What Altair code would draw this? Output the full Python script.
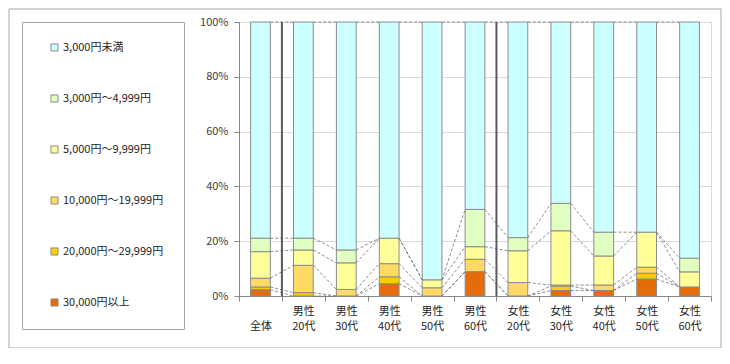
import json
import altair as alt
import pandas as pd

categories = ["全体", "男性20代", "男性30代", "男性40代", "男性50代", "男性60代",
              "女性20代", "女性30代", "女性40代", "女性50代", "女性60代"]
category_lines = [["", "全体"], ["男性", "20代"], ["男性", "30代"], ["男性", "40代"],
                  ["男性", "50代"], ["男性", "60代"], ["女性", "20代"], ["女性", "30代"],
                  ["女性", "40代"], ["女性", "50代"], ["女性", "60代"]]

# legend order (top -> bottom); stacking is the reverse (30,000円以上 at the bottom)
series_names = ["3,000円未満", "3,000円～4,999円", "5,000円～9,999円",
                "10,000円～19,999円", "20,000円～29,999円", "30,000円以上"]
series_colors = ["#CCFFFF", "#E0FFC0", "#FFFF99", "#FFD966", "#FFCC00", "#E46C0A"]

v_under3k = [78.9, 78.9, 83.2, 78.9, 94.1, 68.4, 78.7, 66.2, 76.7, 76.7, 86.2]
v_3k_5k   = [4.9, 4.3, 4.7, 0.0, 0.0, 13.6, 4.8, 10.0, 8.7, 0.0, 5.0]
v_5k_10k  = [9.7, 5.6, 9.7, 9.3, 2.9, 4.6, 11.6, 19.8, 10.6, 12.8, 5.5]
v_10k_20k = [3.2, 10.0, 2.4, 4.8, 3.0, 4.5, 4.9, 0.4, 2.0, 2.2, 0.0]
v_20k_30k = [1.0, 1.2, 0.0, 2.5, 0.0, 0.0, 0.0, 1.6, 0.0, 2.1, 0.0]
v_30k_up  = [2.3, 0.0, 0.0, 4.5, 0.0, 8.9, 0.0, 2.0, 2.0, 6.2, 3.3]

y_ticks = [0, 20, 40, 60, 80, 100]
separator_cats = ["男性20代", "女性20代"]

# ---- build tables ----
BAR_HALF = 0.23  # half bar width, as a fraction of one category slot
series_values = [v_under3k, v_3k_5k, v_5k_10k, v_10k_20k, v_20k_30k, v_30k_up]
stack_order = list(reversed(range(len(series_names))))  # bottom first: 30,000円以上

bar_rows = []
tops = {}
for i, cat in enumerate(categories):
    cum = 0.0
    for k in stack_order:
        v = series_values[k][i]
        y0, y1 = cum, cum + v
        cum = y1
        tops[(k, i)] = y1
        if v > 0:
            bar_rows.append({"cat": cat, "series": series_names[k], "y0": y0, "y1": y1,
                             "xa": i + 0.5 - BAR_HALF, "xb": i + 0.5 + BAR_HALF})
bars_df = pd.DataFrame(bar_rows)

conn_rows = []
for i in range(len(categories) - 1):
    for k in range(len(series_names)):
        conn_rows.append({"series": series_names[k],
                          "xa": i + 0.5 + BAR_HALF, "xb": i + 1.5 - BAR_HALF,
                          "ya": tops[(k, i)], "yb": tops[(k, i + 1)]})
conn_df = pd.DataFrame(conn_rows)

sep_df = pd.DataFrame({"cat": separator_cats,
                       "xs": [categories.index(c) for c in separator_cats]})

W, H = 472, 274
n = len(categories)
step = W / n

label_expr = json.dumps(category_lines, ensure_ascii=False) + "[datum.value] || ''"

x_scale = alt.Scale(domain=[0, n], nice=False, zero=False)
y_scale = alt.Scale(domain=[0, 100], nice=False)

x_axis = alt.Axis(title=None, orient="bottom", values=list(range(n + 1)),
                  labelOffset=step / 2, labelExpr=label_expr,
                  labelAngle=0, labelFontSize=11, labelLineHeight=15,
                  labelPadding=4, labelBaseline="top", labelAlign="center",
                  labelColor="#262626", labelFlush=False, labelOverlap=False,
                  tickSize=5, tickColor="#868686", domainColor="#868686", grid=False)
y_axis = alt.Axis(title=None, orient="left", values=y_ticks, labelExpr="datum.value + '%'",
                  grid=True, gridColor="#d9d9d9", domainColor="#868686",
                  tickColor="#868686", tickSize=5, labelPadding=6,
                  labelFontSize=11, labelColor="#404040")

bars = alt.Chart(bars_df).mark_bar(stroke="#8c8c8c", strokeWidth=1).encode(
    x=alt.X("xa:Q", scale=x_scale, axis=x_axis),
    x2="xb:Q",
    y=alt.Y("y0:Q", scale=y_scale, axis=y_axis),
    y2="y1:Q",
    color=alt.Color("series:N", title=None,
                    scale=alt.Scale(domain=series_names, range=series_colors),
                    legend=alt.Legend(orient="none", legendX=-217, legendY=0,
                                      strokeColor="#a6a6a6", fillColor="white",
                                      padding=20, rowPadding=38,
                                      symbolType="square", symbolSize=50,
                                      symbolStrokeColor="#8c8c8c", symbolStrokeWidth=1,
                                      symbolOffset=7, labelOffset=3,
                                      labelFontSize=11, labelColor="#262626")),
)

connectors = alt.Chart(conn_df).mark_rule(
    strokeDash=[3, 2], color="#6f6f6f", strokeWidth=0.8
).encode(
    x=alt.X("xa:Q", scale=x_scale, axis=x_axis),
    x2="xb:Q",
    y=alt.Y("ya:Q", scale=y_scale, axis=y_axis),
    y2="yb:Q",
)

separators = alt.Chart(sep_df).mark_rule(color="#5a5a5a", strokeWidth=2).encode(
    x=alt.X("xs:Q", scale=x_scale, axis=x_axis),
    y=alt.datum(0, scale=y_scale),
    y2=alt.datum(100),
)

frame = alt.Chart(pd.DataFrame({"f": [0]})).mark_rect(
    fillOpacity=0, stroke="#a6a6a6", strokeWidth=1
).encode(
    x=alt.value(-230), x2=alt.value(482), y=alt.value(-13), y2=alt.value(326)
)

chart = alt.layer(bars, connectors, separators, frame).properties(
    width=W, height=H,
    padding={"left": 231, "top": 14, "right": 11, "bottom": 52},
    autosize=alt.AutoSizeParams(type="none"),
).configure(
    font="Noto Sans CJK JP",
).configure_view(
    stroke="#d9d9d9"
)

chart.save("out.html", embed_options={"renderer": "svg", "actions": False})
